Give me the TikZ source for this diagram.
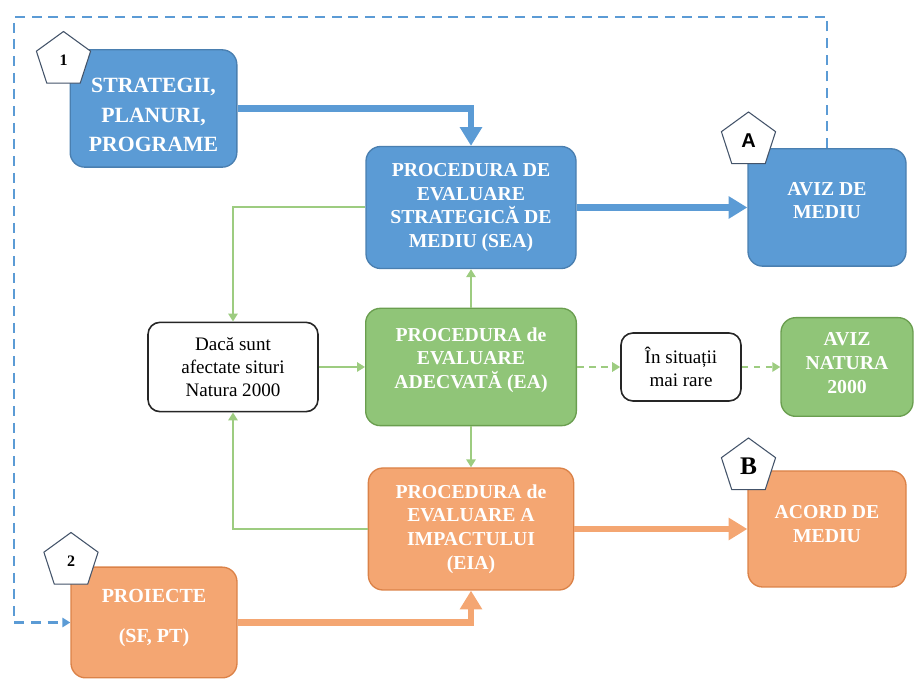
\documentclass[tikz,border=0pt]{standalone}
\usepackage{fontspec}
\setmainfont{Liberation Serif}
\newfontfamily\sanslabel{Liberation Sans}
\usetikzlibrary{arrows.meta,shapes.geometric}

\definecolor{seablue}{HTML}{5B9BD5}
\definecolor{seaedge}{HTML}{4A7FB0}
\definecolor{eagreen}{HTML}{90C578}
\definecolor{eaedge}{HTML}{6A9E4F}
\definecolor{linkgreen}{HTML}{9DCC80}
\definecolor{eiaorange}{HTML}{F4A672}
\definecolor{eiaedge}{HTML}{DB8248}
\definecolor{badgeedge}{HTML}{44546A}

\begin{document}
\begin{tikzpicture}[x=0.75pt,y=-0.75pt,
    box/.style={rectangle, rounded corners=11pt, line width=1pt, inner sep=0pt,
        align=center, text=white, font=\fontsize{14.8}{17.8}\selectfont\bfseries},
    bluebox/.style={box, fill=seablue, draw=seaedge},
    greenbox/.style={box, fill=eagreen, draw=eaedge},
    orangebox/.style={box, fill=eiaorange, draw=eiaedge},
    boxtext/.style={align=center, text=white, inner sep=0pt, font=\fontsize{14.8}{17.8}\selectfont\bfseries},
    notebox/.style={rectangle, rounded corners=9pt, draw=black!85, line width=1.2pt, fill=white,
        inner sep=0pt, align=center, font=\fontsize{14.3}{17.5}\selectfont},
    badge/.style={regular polygon, regular polygon sides=5, minimum size=42.75pt, inner sep=0pt,
        fill=white, draw=badgeedge, line width=0.8pt, font=\fontsize{12}{12}\selectfont\bfseries},
    bigblue/.style={line width=5pt, draw=seablue, -{Triangle[width=16pt,length=14pt]}},
    bigorange/.style={line width=5pt, draw=eiaorange, -{Triangle[width=16pt,length=14pt]}},
    thingreen/.style={line width=1.5pt, draw=linkgreen, -{Triangle[width=7pt,length=6pt]}},
    dashgreen/.style={thingreen, dash pattern=on 5pt off 4pt},
    dashblue/.style={line width=1.9pt, draw=seablue, dash pattern=on 7.5pt off 5pt,
        -{Triangle[width=7pt,length=6pt]}}]

    \useasboundingbox (0,0) rectangle (915,680);

    % Boxes of the SEA branch
    \node[bluebox, minimum width=125pt, minimum height=88pt] (strat) at (153.5,108.5) {};
    \node[boxtext, font=\fontsize{16.3}{22.2}\selectfont\bfseries] (strat-text) at (153.5,115)
        {STRATEGII,\\PLANURI,\\PROGRAME};
    \node[bluebox, minimum width=157.5pt, minimum height=91.5pt] (sea) at (471,207.5)
        {PROCEDURA DE\\EVALUARE\\STRATEGICĂ DE\\MEDIU (SEA)};
    \node[bluebox, minimum width=118.5pt, minimum height=88pt] (aviz) at (827,207.5) {};
    \node[boxtext] (aviz-text) at (827,200.5) {AVIZ DE\\MEDIU};

    % Boxes of the Natura 2000 branch
    \node[notebox, minimum width=127.5pt, minimum height=67pt] (daca) at (233,367)
        {Dacă sunt\\afectate situri\\Natura 2000};
    \node[greenbox, minimum width=158pt, minimum height=88pt] (ea) at (471,367) {};
    \node[boxtext] (ea-text) at (471,360) {PROCEDURA de\\EVALUARE\\ADECVATĂ (EA)};
    \node[notebox, minimum width=90pt, minimum height=51pt] (rare) at (681,367)
        {În situații\\mai rare};
    \node[greenbox, minimum width=99pt, minimum height=74pt] (natura) at (847,367) {};
    \node[boxtext] (natura-text) at (847,363) {AVIZ\\NATURA\\2000};

    % Boxes of the EIA branch
    \node[orangebox, minimum width=154pt, minimum height=91.5pt] (eia) at (471,529)
        {PROCEDURA de\\EVALUARE A\\IMPACTULUI\\(EIA)};
    \node[orangebox, minimum width=118.5pt, minimum height=87pt] (acord) at (827,529) {};
    \node[boxtext] (acord-text) at (827,524) {ACORD DE\\MEDIU};
    \node[orangebox, minimum width=124.5pt, minimum height=83pt] (proj) at (154,622.5) {};
    \node[boxtext, font=\fontsize{15}{18}\selectfont\bfseries] (proj-text) at (154,618)
        {PROIECTE\\[12pt](SF, PT)};

    % Thick arrows
    \draw[bigblue] (strat.east) -| (sea.north);
    \draw[bigblue] (sea.east) -- (aviz.west);
    \draw[bigorange] (proj.east) -| (eia.south);
    \draw[bigorange] (eia.east) -- (acord.west);

    % Thin green arrows
    \draw[thingreen] (sea.west) -| (daca.north);
    \draw[thingreen] (eia.west) -| (daca.south);
    \draw[thingreen] (daca.east) -- (ea.west);
    \draw[thingreen] (ea.north) -- (sea.south);
    \draw[thingreen] (ea.south) -- (eia.north);
    \draw[dashgreen] (ea.east) -- (rare.west);
    \draw[dashgreen] (rare.east) -- (natura.west);

    % Dashed loop back to the projects
    \coordinate (loop) at (14,17);
    \draw[dashblue] (aviz.north) |- (loop) |- (proj.west);

    % Badges
    \node[badge] (b1) at (63.5,60) {1};
    \node[badge] (b2) at (71,561) {2};
    \node[badge, font=\fontsize{15}{15}\selectfont\sanslabel\bfseries] (bA) at (748.5,140.5) {A};
    \node[badge, font=\fontsize{19}{19}\selectfont\bfseries] (bB) at (748.5,466.5) {B};
\end{tikzpicture}
\end{document}
